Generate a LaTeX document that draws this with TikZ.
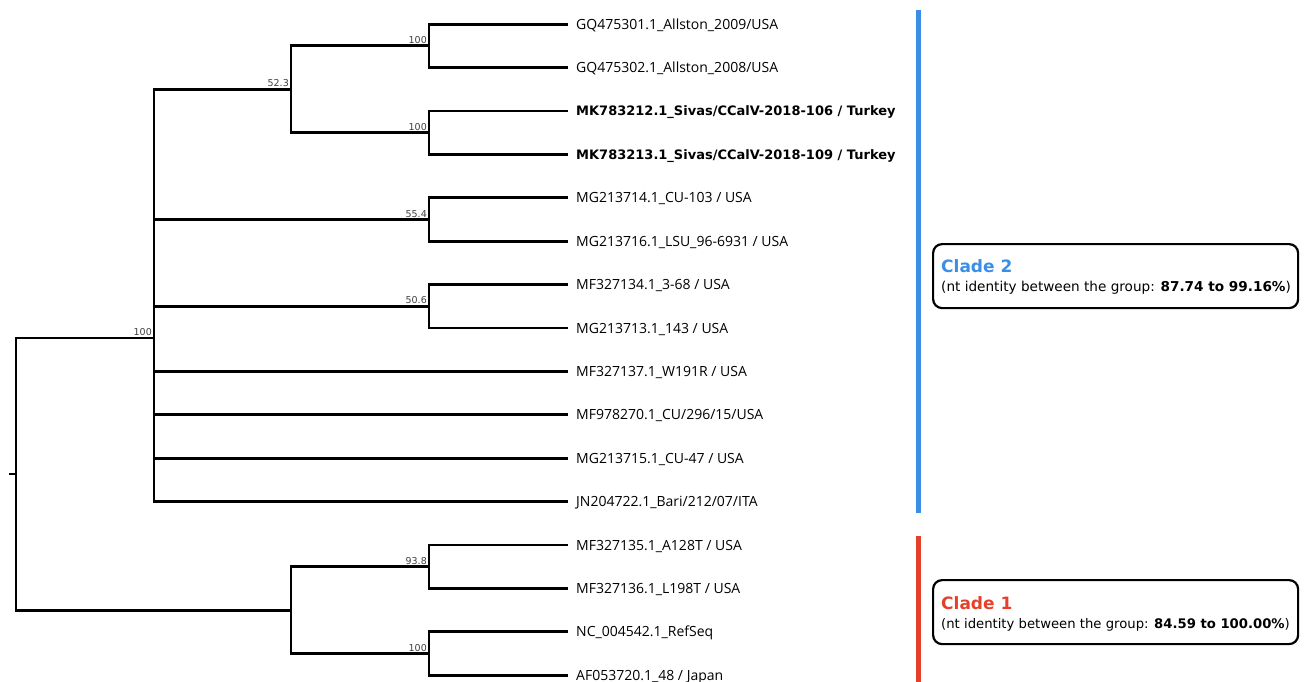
\documentclass[tikz,border=0pt]{standalone}
\usepackage{fontspec}
\usetikzlibrary{calc}
\setmainfont{Open Sans}
\newfontfamily\boxfont{DejaVu Sans}
\definecolor{cladeblue}{HTML}{3A8EE6}
\definecolor{cladered}{HTML}{E4402A}
\begin{document}
\begin{tikzpicture}[x=1pt,y=-1pt,
  branch/.style={line width=2.8pt,black},
  leaf/.style={anchor=base west,inner sep=0pt,font=\fontsize{14}{16}\selectfont},
  leafb/.style={anchor=base west,inner sep=0pt,font=\boxfont\fontsize{13}{15}\selectfont\bfseries},
  boot/.style={anchor=south east,inner sep=0pt,font=\boxfont\fontsize{9.5}{10}\selectfont,text=black!75},
  cladebox/.style={draw,line width=2.2pt,rounded corners=9pt,minimum width=365pt,minimum height=64pt,anchor=north west},
  bar/.style={line width=5pt}]
\useasboundingbox (0,0) rectangle (1306,682);
% leaf tips
\foreach \i/\n in {1/l1,2/l2,3/l3,4/l4,5/l5,6/l6,7/l7,8/l8,9/l9,10/l10,11/l11,12/l12,13/l13,14/l14,15/l15,16/l16}{
  \coordinate (\n) at (568,{24.2+43.4*(\i-1)});
}
% labels
\node[leaf]  (t1)  at ($(l1)+(8,5)$) {GQ475301.1\_Allston\_2009/USA};
\node[leaf]  (t2)  at ($(l2)+(8,5)$) {GQ475302.1\_Allston\_2008/USA};
\node[leafb] (t3)  at ($(l3)+(8,5)$) {MK783212.1\_Sivas/CCalV-2018-106 / Turkey};
\node[leafb] (t4)  at ($(l4)+(8,5)$) {MK783213.1\_Sivas/CCalV-2018-109 / Turkey};
\node[leaf]  (t5)  at ($(l5)+(8,5)$) {MG213714.1\_CU-103 / USA};
\node[leaf]  (t6)  at ($(l6)+(8,5)$) {MG213716.1\_LSU\_96-6931 / USA};
\node[leaf]  (t7)  at ($(l7)+(8,5)$) {MF327134.1\_3-68 / USA};
\node[leaf]  (t8)  at ($(l8)+(8,5)$) {MG213713.1\_143 / USA};
\node[leaf]  (t9)  at ($(l9)+(8,5)$) {MF327137.1\_W191R / USA};
\node[leaf]  (t10) at ($(l10)+(8,5)$) {MF978270.1\_CU/296/15/USA};
\node[leaf]  (t11) at ($(l11)+(8,5)$) {MG213715.1\_CU-47 / USA};
\node[leaf]  (t12) at ($(l12)+(8,5)$) {JN204722.1\_Bari/212/07/ITA};
\node[leaf]  (t13) at ($(l13)+(8,5)$) {MF327135.1\_A128T / USA};
\node[leaf]  (t14) at ($(l14)+(8,5)$) {MF327136.1\_L198T / USA};
\node[leaf]  (t15) at ($(l15)+(8,5)$) {NC\_004542.1\_RefSeq};
\node[leaf]  (t16) at ($(l16)+(8,5)$) {AF053720.1\_48 / Japan};
% internal nodes
\coordinate (nA)  at (429,45.9);
\coordinate (nS)  at (429,132.7);
\coordinate (n55) at (429,219.5);
\coordinate (n50) at (429,306.3);
\coordinate (n52) at (291,89.3);
\coordinate (c2)  at (154,338);
\coordinate (n93) at (429,566.7);
\coordinate (nR)  at (429,653.5);
\coordinate (c1)  at (291,610.1);
\coordinate (root) at (16,474);
\coordinate (stub) at (9,474);
% branches
\draw[branch] (l1) -| (nA) |- (l2);
\draw[branch] (l3) -| (nS) |- (l4);
\draw[branch] (l5) -| (n55) |- (l6);
\draw[branch] (l7) -| (n50) |- (l8);
\draw[branch] (nA) -| (n52) |- (nS);
\draw[branch] (l13) -| (n93) |- (l14);
\draw[branch] (l15) -| (nR) |- (l16);
\draw[branch] (n93) -| (c1) |- (nR);
\draw[branch] (n52) -| (c2) |- (l12);
\draw[branch] (c2) |- (n55);
\draw[branch] (c2) |- (n50);
\draw[branch] (c2) |- (l9);
\draw[branch] (c2) |- (l10);
\draw[branch] (c2) |- (l11);
\draw[branch] (c2) -| (root) |- (c1);
\draw[branch] (stub) -- (root);
% bootstrap values
\node[boot] (bA)  at ($(nA)+(-2,-2)$) {100};
\node[boot] (bS)  at ($(nS)+(-2,-2)$) {100};
\node[boot] (b55) at ($(n55)+(-2,-2)$) {55.4};
\node[boot] (b50) at ($(n50)+(-2,-2)$) {50.6};
\node[boot] (b52) at ($(n52)+(-2,-2)$) {52.3};
\node[boot] (bc2) at ($(c2)+(-2,-2)$) {100};
\node[boot] (b93) at ($(n93)+(-2,-2)$) {93.8};
\node[boot] (bR)  at ($(nR)+(-2,-2)$) {100};
% clade bars
\coordinate (b2top) at (918.5,10);
\coordinate (b2bot) at (918.5,513);
\coordinate (b1top) at (918.5,536);
\coordinate (b1bot) at (918.5,682);
\draw[bar,cladeblue] (b2top) -- (b2bot);
\draw[bar,cladered] (b1top) -- (b1bot);
% clade boxes
\node[cladebox] (box2) at (932,243) {};
\node[anchor=base west,inner sep=0pt,text=cladeblue,font=\boxfont\fontsize{17}{19}\selectfont\bfseries] (h2) at (941,272) {Clade 2};
\node[anchor=base west,inner sep=0pt,font=\boxfont\fontsize{13.6}{15}\selectfont] (s2) at (941,291) {(nt identity between the group: \textbf{87.74 to 99.16\%})};
\node[cladebox] (box1) at (932,579) {};
\node[anchor=base west,inner sep=0pt,text=cladered,font=\boxfont\fontsize{17}{19}\selectfont\bfseries] (h1) at (941,609) {Clade 1};
\node[anchor=base west,inner sep=0pt,font=\boxfont\fontsize{13.2}{15}\selectfont] (s1) at (941,628) {(nt identity between the group: \textbf{84.59 to 100.00\%})};
\end{tikzpicture}
\end{document}
